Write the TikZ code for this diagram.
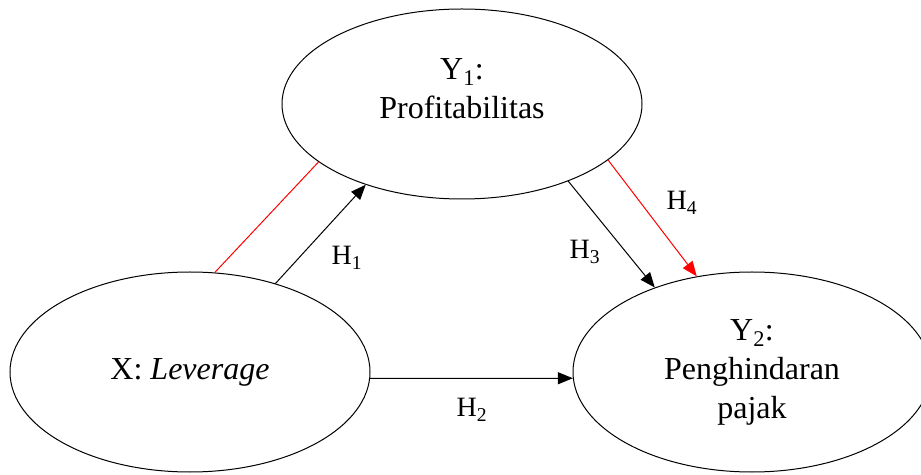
\documentclass[tikz,border=0pt]{standalone}
\usepackage{fontspec}
\setmainfont{Liberation Serif}
\usepackage{tikz}
\usetikzlibrary{arrows.meta,shapes.geometric}

\begin{document}
\begin{tikzpicture}[x=1pt, y=1pt, every node/.style={font=\fontsize{32}{39}\selectfont},
  var/.style={ellipse, draw, line width=1pt, inner sep=0pt, align=center},
  hyp/.style={font=\fontsize{28}{32}\selectfont},
  link/.style={line width=1pt, -{Triangle[length=15pt,width=12pt]}}]
  \useasboundingbox (0,0) rectangle (921,474);
  % variables
  \node[var, minimum width=360pt, minimum height=190pt, text depth=31pt] (y1) at (462,370) {Y\textsubscript{1}:\\Profitabilitas};
  \node[var, minimum width=360pt, minimum height=200pt] (x) at (190,102) {X: \textit{Leverage}};
  \node[var, minimum width=358pt, minimum height=200pt] (y2) at (752,102) {Y\textsubscript{2}:\\Penghindaran\\pajak};
  % paths
  \draw[line width=1pt, red] (x.76) -- (y1.202);
  \draw[link] (x.46) -- (y1.220);
  \draw[link] (y1.324) -- (y2.139);
  \draw[link, red] (y1.339) -- (y2.120);
  \draw[link] (x.-2) -- (y2.182);
  % hypotheses
  \node[hyp] (h1) at (347,216) {H\textsubscript{1}};
  \node[hyp] (h2) at (472,64) {H\textsubscript{2}};
  \node[hyp] (h3) at (585,222) {H\textsubscript{3}};
  \node[hyp] (h4) at (682,271) {H\textsubscript{4}};
\end{tikzpicture}
\end{document}
